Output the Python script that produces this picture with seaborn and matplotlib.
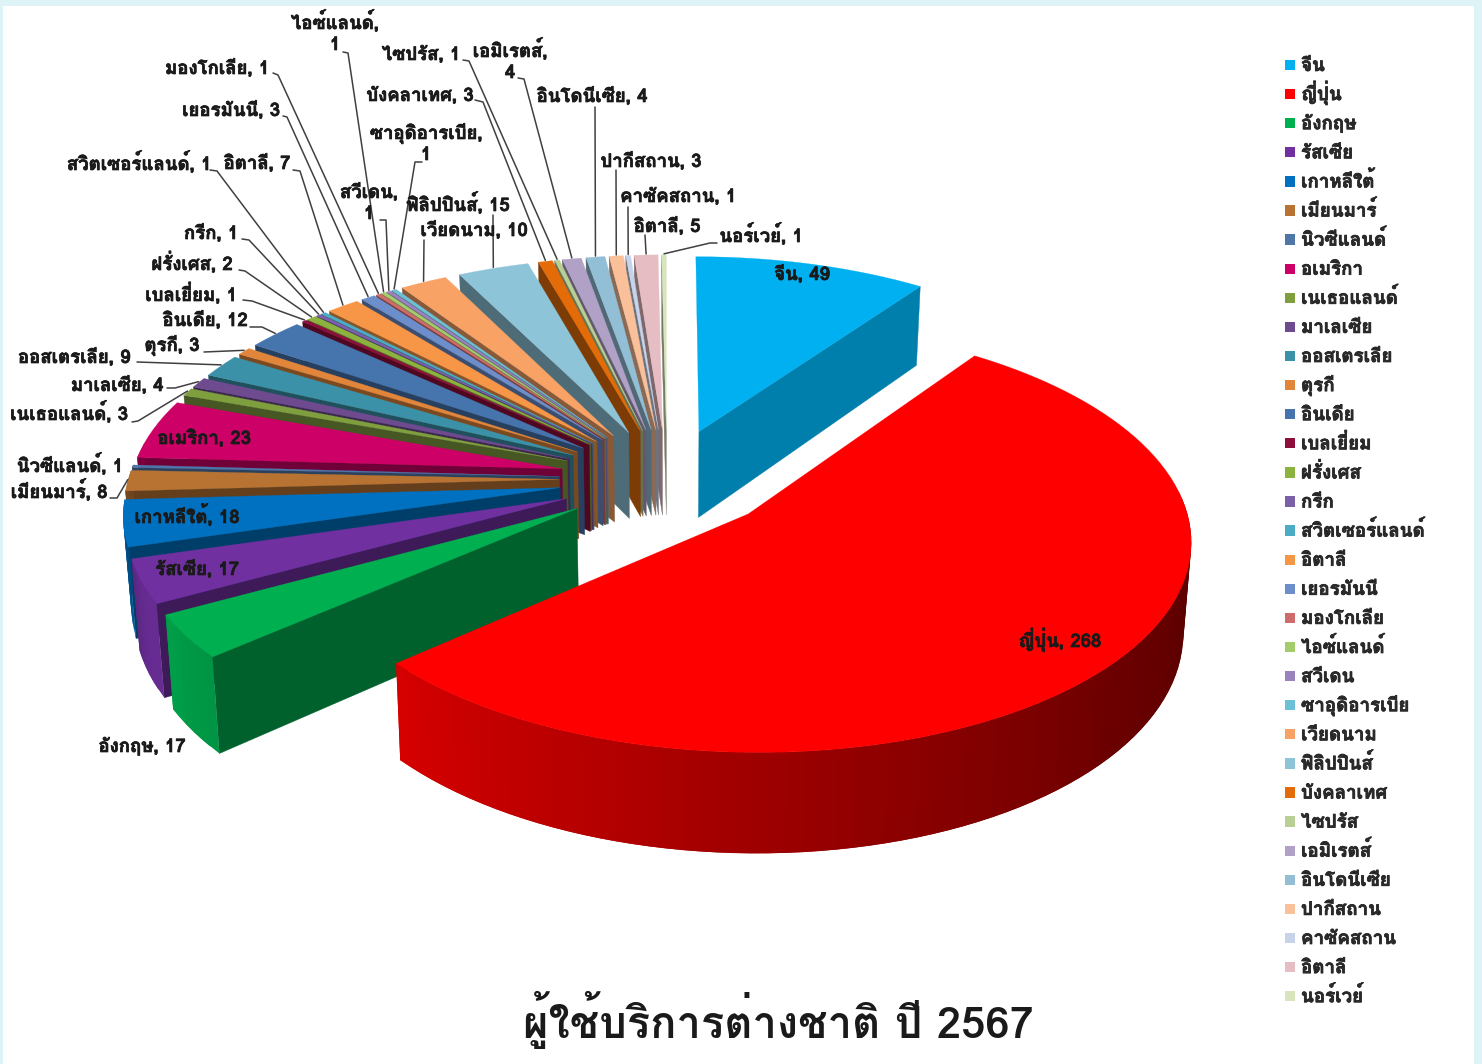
import numpy as np
import matplotlib
matplotlib.use('Agg')
import matplotlib.pyplot as plt
import matplotlib.patheffects as pe
import seaborn as sns

# Data
countries = ['จีน', 'ญี่ปุ่น', 'อังกฤษ', 'รัสเซีย', 'เกาหลีใต้', 'เมียนมาร์', 'นิวซีแลนด์', 'อเมริกา',
             'เนเธอแลนด์', 'มาเลเซีย', 'ออสเตรเลีย', 'ตุรกี', 'อินเดีย', 'เบลเยี่ยม', 'ฝรั่งเศส', 'กรีก',
             'สวิตเซอร์แลนด์', 'อิตาลี', 'เยอรมันนี', 'มองโกเลีย', 'ไอซ์แลนด์', 'สวีเดน', 'ซาอุดิอารเบีย',
             'เวียดนาม', 'ฟิลิปปินส์', 'บังคลาเทศ', 'ไซปรัส', 'เอมิเรตส์', 'อินโดนีเซีย', 'ปากีสถาน',
             'คาซัคสถาน', 'อิตาลี', 'นอร์เวย์']
values = [49, 268, 17, 17, 18, 8, 1, 23, 3, 4, 9, 3, 12, 1, 2, 1, 1, 7, 3, 1, 1, 1, 1, 10, 15, 3, 1, 4, 4, 3, 1, 5, 1]
colors = ['#00B0F0', '#FF0000', '#00B050', '#7030A0', '#0070C0', '#B87333', '#4F76A8', '#CC0066',
          '#7F9F3F', '#6E4A8E', '#3A91A8', '#E0853A', '#4674AC', '#8F0F3C', '#8DB33F', '#7B5FA8',
          '#4BACC6', '#F79646', '#6C8ECB', '#D06B6B', '#A4CC6A', '#9A82BC', '#6BC0D6', '#F8A266',
          '#8DC4D8', '#E36C09', '#B9CF95', '#B2A1C7', '#93BFD6', '#FAC09A', '#C6D3E8', '#E6BDC2', '#D7E4BC']
title = 'ผู้ใช้บริการต่างชาติ ปี 2567'

# Label placement, pixels of the picture: centre of text, then leader start and elbow
label_xy = [(802, 274), (1060, 641), (142, 746), (197, 569), (187, 517), (59, 492), (70, 466), (204, 438),
            (69, 414), (117, 385), (74, 357), (172, 345), (205, 320), (191, 295), (192, 264), (211, 233),
            (139, 164), (257, 163), (231, 110), (217, 68), (335, 33), (369, 202), (426, 143),
            (474, 230), (458, 205), (420, 95), (421, 54), (510, 61), (592, 96), (651, 161),
            (678, 196), (667, 226), (761, 236)]
two_lines = [20, 21, 22, 27]
leaders = {5: ((110, 498), (117, 498)), 8: ((132, 422), (138, 421)), 9: ((167, 388), (175, 388)),
           10: ((137, 362), (137, 362)), 11: ((204, 352), (204, 352)), 12: ((250, 327), (262, 327)),
           13: ((243, 300), (252, 301)), 14: ((239, 270), (245, 271)), 15: ((242, 239), (249, 240)),
           16: ((210, 170), (217, 171)), 17: ((293, 170), (300, 171)), 18: ((283, 116), (287, 117)),
           19: ((273, 73), (278, 75)), 20: ((343, 52), (348, 53)), 21: ((380, 220), (386, 220)),
           22: ((422, 162), (415, 162)), 23: ((424, 240), (424, 240)), 24: ((493, 215), (493, 215)),
           25: ((475, 100), (483, 102)), 26: ((463, 60), (469, 61)), 27: ((518, 78), (524, 79)),
           28: ((595, 107), (595, 107)), 29: ((616, 170), (616, 170)), 30: ((628, 207), (628, 207)),
           31: ((645, 235), (645, 235)), 32: ((717, 243), (710, 243))}

# 3D pie geometry
cx, cy = 667, 479
rx, ry = 431, 204
wall = 88
persp = 0.11
explode = 0.25

sns.set_theme(style='white')
plt.rcParams['font.family'] = ['Loma', 'DejaVu Sans']
palette = sns.color_palette(colors)
heavy = [pe.withStroke(linewidth=0.5, foreground='#1a1a1a')]

fig = plt.figure(figsize=(14.82, 10.64), dpi=100, facecolor='#DDF3F6')
ax = fig.add_axes([0, 0, 1, 1])
ax.set_xlim(0, 1482)
ax.set_ylim(1064, 0)
ax.axis('off')
ax.fill_between([3, 1474], 6, 1064, color='white', lw=0, zorder=0)

total = sum(values)
edges = np.cumsum([0] + values) / total * 2 * np.pi


def project(theta, mid, r, z):
    X = r * np.sin(theta) + explode * np.sin(mid)
    Y = r * np.cos(theta) + explode * np.cos(mid)
    s = 1 / (1 + persp * Y)
    return cx + rx * X * s * (1 - 0.015 * z), cy - ry * Y * s + wall * s * z


def shade(col, k):
    return tuple(c * k for c in col)


def rim_shade(theta):
    deg = np.degrees(theta)
    return np.interp(deg, [90, 130, 180, 229, 245, 270, 360], [0.33, 0.42, 0.62, 0.84, 0.92, 0.6, 0.5])


order = sorted(range(len(values)), key=lambda k: -np.cos((edges[k] + edges[k + 1]) / 2))
for z_i, i in enumerate(order):
    a0, a1 = edges[i], edges[i + 1]
    mid = (a0 + a1) / 2
    col = palette[i]
    zo = 2 + z_i
    cut = 0.72 if i == 0 else 0.55

    # cut faces that look towards the viewer
    for ang, normal in ((a0, a0 - np.pi / 2), (a1, a1 + np.pi / 2)):
        if np.cos(normal) < 0:
            pts = [project(0, mid, 0, 0), project(ang, mid, 1, 0), project(ang, mid, 1, 1), project(0, mid, 0, 1)]
            xs, ys = zip(*pts)
            ax.fill(xs, ys, color=shade(col, cut), lw=0.3, zorder=zo)

    # outer wall, small overlapping pieces for the gradient
    n = max(2, int(np.degrees(a1 - a0) / 2))
    arc = np.linspace(a0, a1, n + 1)
    step = arc[1] - arc[0]
    for t0, t1 in zip(arc[:-1], arc[1:]):
        if np.cos((t0 + t1) / 2) < 0.1:
            t2 = min(t1 + step, a1)
            pts = [project(t0, mid, 1, 0), project(t2, mid, 1, 0), project(t2, mid, 1, 1), project(t0, mid, 1, 1)]
            xs, ys = zip(*pts)
            ax.fill(xs, ys, color=shade(col, rim_shade((t0 + t1) / 2)), lw=0, zorder=zo)

    # top face
    pts = [project(0, mid, 0, 0)] + [project(t, mid, 1, 0) for t in arc]
    xs, ys = zip(*pts)
    ax.fill(xs, ys, color=col, lw=0.2, zorder=zo)

# Labels and leader lines
for i, (name, val) in enumerate(zip(countries, values)):
    x, y = label_xy[i]
    if i in two_lines:
        ax.text(x, y - 4, f'{name},', ha='center', va='baseline', fontsize=13.4, fontweight='bold',
                color='#1a1a1a', zorder=100, path_effects=heavy)
        ax.text(x, y + 17, str(val), ha='center', va='baseline', fontsize=13.4, fontweight='bold',
                color='#1a1a1a', zorder=100, path_effects=heavy)
    else:
        ax.text(x, y + 6, f'{name}, {val}', ha='center', va='baseline', fontsize=13.4, fontweight='bold',
                color='#1a1a1a', zorder=100, path_effects=heavy)
    if i in leaders:
        start, elbow = leaders[i]
        mid = (edges[i] + edges[i + 1]) / 2
        ex, ey = project(mid, mid, 1, 0)
        ax.plot([start[0], elbow[0], ex], [start[1], elbow[1], ey - 1], color='#404040', lw=1.1, zorder=99)

# Legend
legend_x, legend_y, legend_step = 1290, 65, 29.1
rows = legend_y + legend_step * np.arange(len(countries))
ax.scatter([legend_x] * len(countries), rows, c=colors, marker='s', s=55, lw=0, zorder=100)
for name, y in zip(countries, rows):
    ax.text(legend_x + 11, y + 6, name, ha='left', va='baseline', fontsize=13.5, fontweight='bold',
            color='#2a2a2a', zorder=100, path_effects=heavy)

ax.text(778, 1038, title, ha='center', va='baseline', fontsize=31.3, fontweight='bold', color='#1a1a1a', zorder=100)

plt.savefig('out.png', dpi=100, facecolor=fig.get_facecolor())
